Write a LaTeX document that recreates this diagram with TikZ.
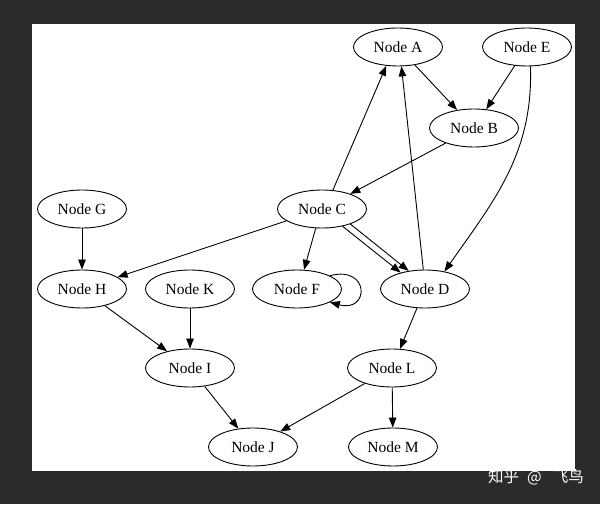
\documentclass[tikz,border=0pt]{standalone}
\usepackage{fontspec}
\setmainfont{Liberation Serif}
\newfontfamily\cjkfont{Noto Sans CJK SC}
\usetikzlibrary{shapes.geometric,arrows.meta}
\definecolor{r43g43b43}{rgb}{0.168627,0.168627,0.168627}
\tikzset{
  gnode/.style={draw, ellipse, line width=0.9pt, minimum width=89pt, minimum height=38pt,
    inner sep=0pt, font=\fontsize{15.5}{16}\selectfont},
  gedge/.style={line width=0.9pt, -{Triangle[length=10pt,width=7.5pt]}}
}
\begin{document}
\begin{tikzpicture}[x=1pt,y=1pt]
% \clip (0,0) rectangle (600,504);

% Drawing the dark frame and the white page
\fill [r43g43b43] (0,0) rectangle (600,504);
\fill [white] (32,33) rectangle (575,480);

% Drawing nodes A E
\node [gnode] (A) at (398,457) {Node A};
\node [gnode] (E) at (527,457) {Node E};

% Drawing node B
\node [gnode] (B) at (474,376) {Node B};

% Drawing nodes G C
\node [gnode] (G) at (82,295) {Node G};
\node [gnode] (C) at (322,295) {Node C};

% Drawing nodes H K F D
\node [gnode] (H) at (82,215) {Node H};
\node [gnode] (K) at (190,215) {Node K};
\node [gnode] (F) at (297,215) {Node F};
\node [gnode] (D) at (425,215) {Node D};

% Drawing nodes I L
\node [gnode] (I) at (190,136) {Node I};
\node [gnode] (L) at (392,136) {Node L};

% Drawing nodes J M
\node [gnode] (J) at (253,57) {Node J};
\node [gnode] (M) at (393,57) {Node M};

% Drawing edges from the top rows
\draw [gedge] (A) -- (B);
\draw [gedge] (E) -- (B);
\draw [gedge] (B) -- (C);
\draw [gedge] (C.60) -- (A.-122);
\draw [gedge] (D.95) -- (A.-80);
\draw [gedge] (E.-80) to[out=-88,in=55] (D.42);

% Drawing edges C D (twice)
\draw [gedge] (C.-40) -- (D.146);
\draw [gedge] (C.-28) -- (D.132);

% Drawing edges C F, C H and loop F
\draw [gedge] (C.-108) -- (F.70);
\draw [gedge] (C) -- (H);
\draw [gedge] (F.22) to[out=15,in=-15,looseness=4] (F.-22);

% Drawing edges to I J L M
\draw [gedge] (G) -- (H);
\draw [gedge] (H) -- (I);
\draw [gedge] (K) -- (I);
\draw [gedge] (I) -- (J);
\draw [gedge] (D) -- (L);
\draw [gedge] (L) -- (J);
\draw [gedge] (L) -- (M);

% Marking the watermark
\node [anchor=west, inner sep=0pt, text=white, font=\cjkfont\fontsize{15.5}{16}\selectfont]
  (mark) at (488,27) {知乎\hspace{8pt}@\hspace{11pt}飞鸟};
\end{tikzpicture}
\end{document}
